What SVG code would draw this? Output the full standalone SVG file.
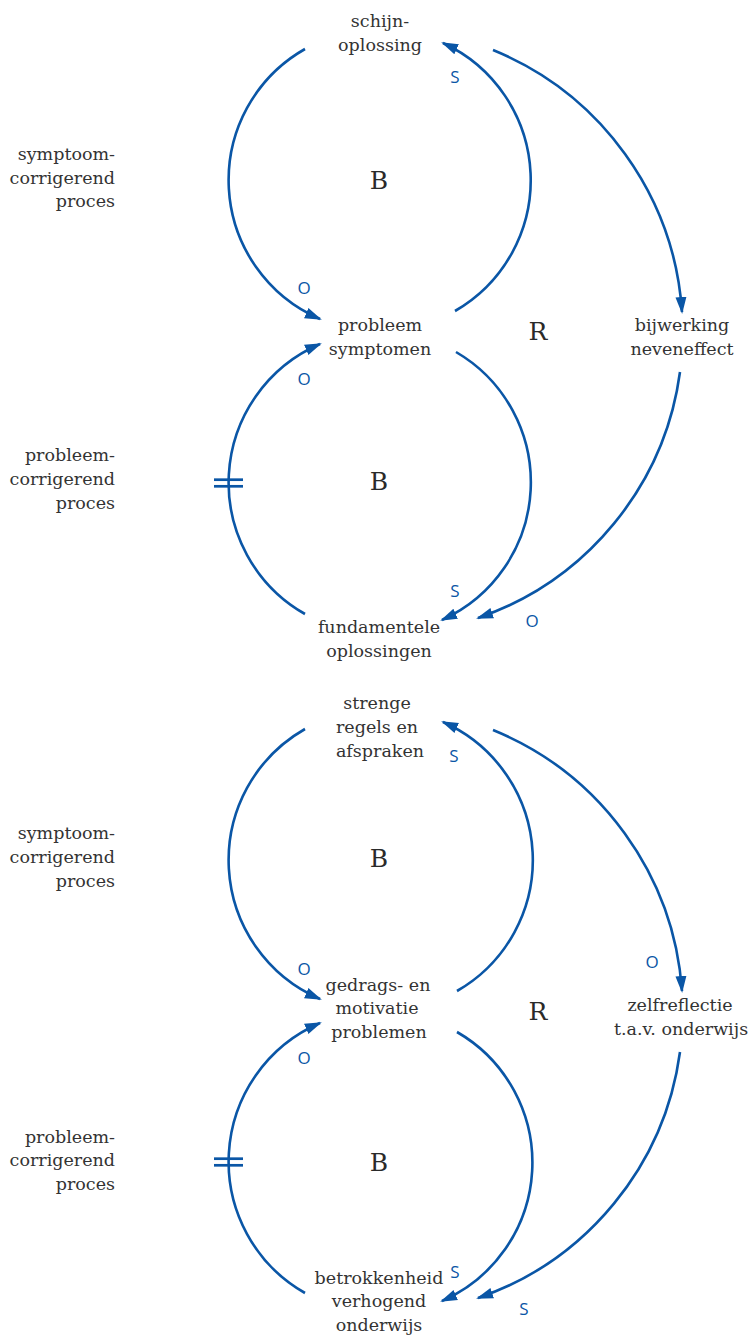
<svg xmlns="http://www.w3.org/2000/svg" width="753" height="1337" viewBox="0 0 753 1337">
  <style>
    .t { font-family: "DejaVu Serif", "Liberation Serif", serif; font-size: 17.5px; fill: #333; text-anchor: middle; }
    .side { font-family: "DejaVu Serif", "Liberation Serif", serif; font-size: 17.5px; fill: #333; text-anchor: end; }
    .big { font-family: "DejaVu Serif", "Liberation Serif", serif; font-size: 25px; fill: #2a2a2a; text-anchor: middle; }
    .pol { font-family: "Open Sans", "Liberation Sans", sans-serif; font-size: 17px; fill: #0a56a6; text-anchor: middle; }
    .link { fill: none; stroke: #0a56a6; stroke-width: 2.6; }
    .arr { marker-end: url(#ah); }
    .delay { stroke: #0a56a6; stroke-width: 2.7; }
  </style>
  <defs>
    <marker id="ah" markerUnits="userSpaceOnUse" markerWidth="17" markerHeight="13" refX="15" refY="6.5" orient="auto">
      <path d="M0,1 L17,6.5 L0,12 Z" fill="#0a56a6"/>
    </marker>
  </defs>
  <rect width="753" height="1337" fill="#fff"/>

  <!-- causal links -->
  <g id="connectors">
    <!-- upper diagram -->
    <path class="link arr" d="M305,49 A151,151 0 0 0 320,319"/>
    <path class="link arr" d="M455,311 A151,151 0 0 0 443,43"/>
    <path class="link arr" d="M305,614 A151,151 0 0 1 320,344"/>
    <path class="link arr" d="M456,352 A151,151 0 0 1 442,620"/>
    <path class="link arr" d="M493,50 A305,305 0 0 1 682,312"/>
    <path class="link arr" d="M680,372 A303,303 0 0 1 478,618"/>
    <line class="delay" x1="214" y1="479.7" x2="243" y2="479.7"/>
    <line class="delay" x1="214" y1="486.3" x2="243" y2="486.3"/>
    <!-- lower diagram -->
    <path class="link arr" d="M305,729 A151,151 0 0 0 320,999"/>
    <path class="link arr" d="M457,991 A151,151 0 0 0 443,722"/>
    <path class="link arr" d="M305,1293 A151,151 0 0 1 320,1023"/>
    <path class="link arr" d="M457,1032 A151,151 0 0 1 442,1301"/>
    <path class="link arr" d="M493,730 A305,305 0 0 1 682,991"/>
    <path class="link arr" d="M680,1052 A303,303 0 0 1 478,1298"/>
    <line class="delay" x1="214" y1="1158.7" x2="243" y2="1158.7"/>
    <line class="delay" x1="214" y1="1165.3" x2="243" y2="1165.3"/>
  </g>

  <!-- link polarities -->
  <g id="polarities">
    <text class="pol" x="455" y="83">S</text>
    <text class="pol" x="304" y="294">O</text>
    <text class="pol" x="304" y="385">O</text>
    <text class="pol" x="455" y="597">S</text>
    <text class="pol" x="532" y="627">O</text>
    <text class="pol" x="454" y="762">S</text>
    <text class="pol" x="304" y="975">O</text>
    <text class="pol" x="304" y="1064">O</text>
    <text class="pol" x="652" y="968">O</text>
    <text class="pol" x="455" y="1278">S</text>
    <text class="pol" x="524" y="1315">S</text>
  </g>

  <!-- loop types -->
  <g id="loops">
    <text class="big" x="379" y="189">B</text>
    <text class="big" x="379" y="490">B</text>
    <text class="big" x="538" y="340">R</text>
    <text class="big" x="379" y="867">B</text>
    <text class="big" x="379" y="1171">B</text>
    <text class="big" x="538" y="1020">R</text>
  </g>

  <!-- loop names -->
  <g id="side-labels">
    <text class="side" x="115" y="160">symptoom-</text>
    <text class="side" x="115" y="184">corrigerend</text>
    <text class="side" x="115" y="207">proces</text>
    <text class="side" x="115" y="461">probleem-</text>
    <text class="side" x="115" y="485">corrigerend</text>
    <text class="side" x="115" y="509">proces</text>
    <text class="side" x="115" y="839">symptoom-</text>
    <text class="side" x="115" y="863">corrigerend</text>
    <text class="side" x="115" y="887">proces</text>
    <text class="side" x="115" y="1143">probleem-</text>
    <text class="side" x="115" y="1166">corrigerend</text>
    <text class="side" x="115" y="1190">proces</text>
  </g>

  <!-- variables, upper diagram -->
  <g id="schijnoplossing">
    <text class="t" x="380" y="27">schijn-</text>
    <text class="t" x="380" y="51">oplossing</text>
  </g>
  <g id="probleemsymptomen">
    <text class="t" x="380" y="331">probleem</text>
    <text class="t" x="380" y="355">symptomen</text>
  </g>
  <g id="bijwerking">
    <text class="t" x="682" y="331">bijwerking</text>
    <text class="t" x="682" y="355">neveneffect</text>
  </g>
  <g id="fundamentele-oplossingen">
    <text class="t" x="379" y="633">fundamentele</text>
    <text class="t" x="379" y="657">oplossingen</text>
  </g>

  <!-- variables, lower diagram -->
  <g id="strenge-regels">
    <text class="t" x="377" y="709">strenge</text>
    <text class="t" x="377" y="733">regels en</text>
    <text class="t" x="380" y="757">afspraken</text>
  </g>
  <g id="gedragsproblemen">
    <text class="t" x="378" y="991">gedrags- en</text>
    <text class="t" x="377" y="1014">motivatie</text>
    <text class="t" x="379" y="1038">problemen</text>
  </g>
  <g id="zelfreflectie">
    <text class="t" x="680" y="1011">zelfreflectie</text>
    <text class="t" x="681" y="1035">t.a.v. onderwijs</text>
  </g>
  <g id="betrokkenheid">
    <text class="t" x="379" y="1284">betrokkenheid</text>
    <text class="t" x="379" y="1307">verhogend</text>
    <text class="t" x="379" y="1331">onderwijs</text>
  </g>
</svg>
